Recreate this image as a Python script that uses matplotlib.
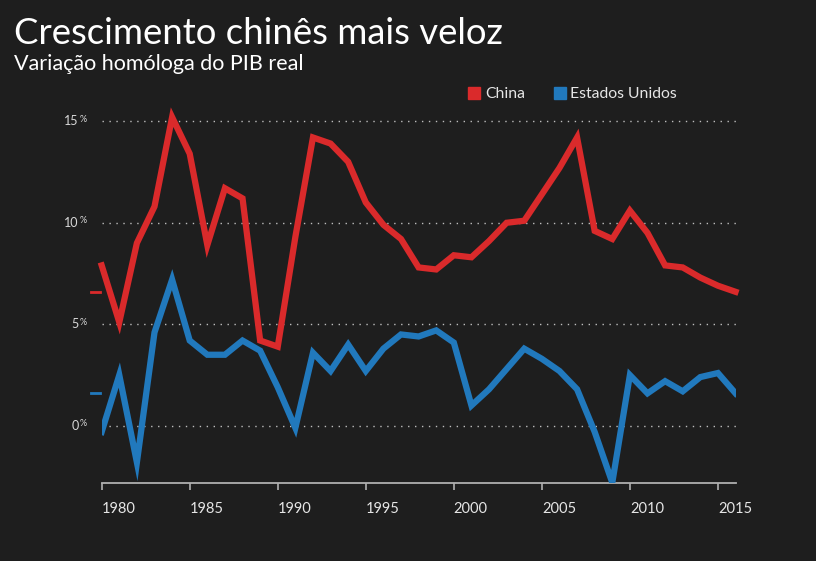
import matplotlib
matplotlib.use('Agg')
from matplotlib import pyplot as plt
from matplotlib import transforms

# Real GDP growth, year-on-year (%)
years = list(range(1980, 2017))
china = [7.9, 5.1, 9.0, 10.8, 15.2, 13.4, 8.9, 11.7, 11.2, 4.2,
         3.9, 9.3, 14.2, 13.9, 13.0, 11.0, 9.9, 9.2, 7.8, 7.7,
         8.4, 8.3, 9.1, 10.0, 10.1, 11.4, 12.7, 14.2, 9.6, 9.2,
         10.6, 9.5, 7.9, 7.8, 7.3, 6.9, 6.6]
usa = [-0.3, 2.5, -1.8, 4.6, 7.2, 4.2, 3.5, 3.5, 4.2, 3.7,
       1.9, -0.1, 3.6, 2.7, 4.0, 2.7, 3.8, 4.5, 4.4, 4.7,
       4.1, 1.0, 1.8, 2.8, 3.8, 3.3, 2.7, 1.8, -0.3, -2.8,
       2.5, 1.6, 2.2, 1.7, 2.4, 2.6, 1.6]
x_ticks = [1980, 1985, 1990, 1995, 2000, 2005, 2010, 2015]
y_ticks = [0, 5, 10, 15]

bg = '#1e1e1e'
red = '#da2a2b'
blue = '#2179bd'
font = 'Lato'

plt.rcParams['font.family'] = [font, 'DejaVu Sans']

fig = plt.figure(figsize=(8.16, 5.61), dpi=100, facecolor=bg)
ax = fig.add_axes([0.1246, 0.1396, 0.7768, 0.6805])
ax.set_facecolor(bg)

for yv in y_ticks:
    ax.axhline(yv, color='#bdbdbd', lw=1.0, ls=(0, (1, 4)), zorder=1)

ax.plot(years, china, color=red, lw=4.5, solid_joinstyle='miter', zorder=3, clip_on=False)
ax.plot(years, usa, color=blue, lw=4.5, solid_joinstyle='miter', zorder=3)

# little markers of the latest value on the left edge
trans = transforms.blended_transform_factory(ax.transAxes, ax.transData)
ax.plot([-0.017, -0.002], [china[-1], china[-1]], color=red, lw=2, transform=trans, clip_on=False)
ax.plot([-0.017, -0.002], [usa[-1], usa[-1]], color=blue, lw=2, transform=trans, clip_on=False)

ax.set_xlim(1980, 2016)
ax.set_ylim(-2.8, 16)

for s in ['top', 'right', 'left']:
    ax.spines[s].set_visible(False)
ax.spines['bottom'].set_color('#b0b0b0')
ax.spines['bottom'].set_linewidth(1.3)
ax.set_xticks(x_ticks)
ax.set_xticklabels([str(v) for v in x_ticks])
ax.tick_params(axis='x', colors='#b0b0b0', length=5, width=1.2, pad=9,
               labelsize=10.5, labelcolor='#e6e6e6')
for lab in ax.get_xticklabels():
    lab.set_horizontalalignment('left')
ax.set_yticks([])

for yv in y_ticks:
    ax.text(-0.036, yv, str(yv), transform=trans, ha='right', va='center',
            color='#d8d8d8', fontsize=9)
    ax.text(-0.035, yv + 0.1, '%', transform=trans, ha='left', va='center',
            color='#d8d8d8', fontsize=6.5)

fig.text(0.017, 0.922, 'Crescimento chinês mais veloz', color='white', fontsize=26.3)
fig.text(0.017, 0.876, 'Variação homóloga do PIB real', color='white', fontsize=15.5)

# legend
fig.patches.append(plt.Rectangle((468 / 816, 1 - 99 / 561), 12 / 816, 12 / 561,
                                 transform=fig.transFigure, color=red))
fig.text(485 / 816, 1 - 93.5 / 561, 'China', color='#e6e6e6', fontsize=11.3, va='center')
fig.patches.append(plt.Rectangle((554 / 816, 1 - 99 / 561), 12 / 816, 12 / 561,
                                 transform=fig.transFigure, color=blue))
fig.text(570 / 816, 1 - 93.5 / 561, 'Estados Unidos', color='#e6e6e6', fontsize=11.3, va='center')

fig.savefig('out.png', dpi=100, facecolor=bg)
